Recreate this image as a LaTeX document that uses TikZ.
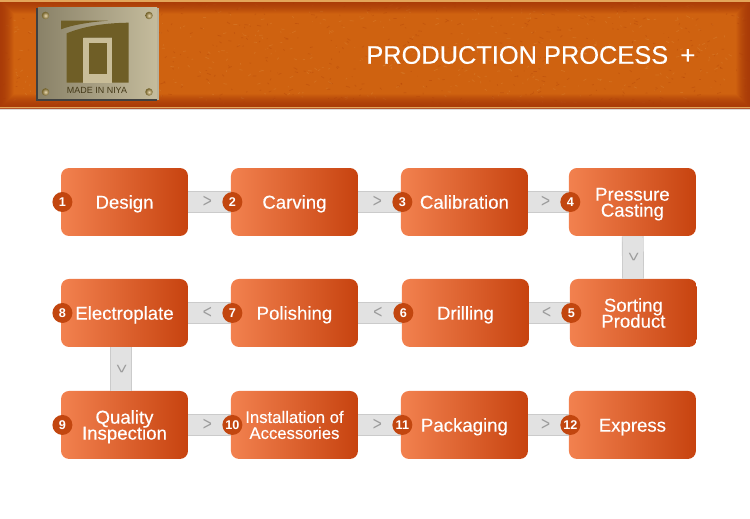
\documentclass[tikz,border=0pt]{standalone}
\usepackage{fontspec}
\setmainfont{Liberation Sans}
\newfontfamily\boxfont[FakeBold=0.25]{Liberation Sans}
\definecolor{boxleft}{HTML}{F2814F}
\definecolor{boxmid}{HTML}{E2693A}
\definecolor{boxright}{HTML}{C7430F}
\definecolor{badgefill}{HTML}{C2460F}
\definecolor{bandfill}{HTML}{E2E2E2}
\definecolor{bandedge}{HTML}{CBCBCB}
\definecolor{chevron}{HTML}{9C9C9C}
\definecolor{leather}{HTML}{CF6210}
\definecolor{leatheredge}{HTML}{A83A08}
\definecolor{leatherline}{HTML}{E3A55A}
\definecolor{plateedge}{HTML}{8A8268}
\definecolor{platemid}{HTML}{CFC6A6}
\definecolor{logodark}{HTML}{6F5E26}
\definecolor{logoframe}{HTML}{C9BD98}
\definecolor{screwgold}{HTML}{E9D7AE}
\newcommand{\chev}[1]{\scalebox{0.8}[1]{#1}}
\newcommand{\boxsize}[1]{\fontsize{#1}{9.07}\boxfont\lineskiplimit=-20pt\relax}
\begin{document}
\begin{tikzpicture}
 [x=0.02cm, y=-0.02cm,
  step node/.style={node distance=3.4cm, rectangle, rounded corners=1.6mm, minimum width=2.54cm, minimum height=1.36cm, inner sep=0pt, left color=boxleft, middle color=boxmid, right color=boxright, text=white, align=center, font=\boxsize{10.6}, execute at begin node={\rule{0pt}{1em}}, execute at end node={\rule[-0.284em]{0pt}{0.284em}}},
  two line/.style={execute at begin node={\rule{0pt}{\dimexpr 9.07pt+1em\relax}}},
  badge node/.style={circle, fill=badgefill, minimum size=4mm, inner sep=0pt, text=white, font=\fontsize{7.2}{8}\selectfont\bfseries},
  band/.style={draw=bandedge, line width=0.5pt, double=bandfill, double distance=11.4pt},
  arrow node/.style={text=chevron, inner sep=0pt, font=\fontsize{11}{11}\selectfont},
  screw/.style={circle, minimum size=1.5mm, inner sep=0pt, inner color=screwgold, outer color=logodark}]

\useasboundingbox (0,0) rectangle (750,519);

% header
\fill[leather] (0,0) rectangle (750,108);
\pgfmathsetseed{7}
\foreach \i in {1,...,500}
  \draw[leatheredge, opacity=0.3, line width=0.4pt] ({rnd*750},{rnd*106}) -- ++({rnd*8-4},{rnd*4-2});
\foreach \i in {1,...,500}
  \draw[leatherline, opacity=0.22, line width=0.4pt] ({rnd*750},{rnd*106}) -- ++({rnd*8-4},{rnd*4-2});
\foreach \k in {0,...,13}
  \draw[leatheredge, line width=0.65pt, opacity={0.85*(14-\k)/14}] (\k,\k) rectangle (750-\k,108-\k);
\draw[leatherline, line width=1.1pt] (0,0.8) -- (750,0.8);
\draw[leatherline, line width=1.1pt] (0,107.5) -- (750,107.5);
\draw[black!15, line width=0.5pt] (0,109) -- (750,109);

% plate
\fill[black!75] (36,8) rectangle (157,101);
\shade[left color=plateedge, middle color=platemid, right color=platemid!85!plateedge] (38,8) rectangle (157,99);
\fill[platemid!70!gray] (157,8) rectangle (159,100);
\fill[logodark] (66.7,33.3) .. controls (85,26) and (105,23) .. (128.7,22.7) -- (128.7,82.7) -- (112,82.7) -- (112,37.7) -- (83.3,37.7) -- (83.3,82.7) -- (66.7,82.7) -- cycle;
\fill[logodark] (61,20.7) -- (108,20.7) .. controls (90,22) and (72,25) .. (61,29.3) -- cycle;
\fill[logoframe] (83.3,37.7) rectangle (112,82.7);
\fill[logodark] (89,42.7) rectangle (107.3,74);
\node[text=logodark!60!black, inner sep=0pt, font=\fontsize{5.1}{5}\selectfont] (maker) at (97,90.5) {MADE IN NIYA};
\node[screw] (s1) at (45.5,15.5) {};
\node[screw] (s2) at (149,15.5) {};
\node[screw] (s3) at (45.5,92) {};
\node[screw] (s4) at (149,92) {};

\node[anchor=west, inner sep=0pt, text=white, font=\fontsize{14.45}{16}\boxfont] (title) at (366,55) {PRODUCTION PROCESS\hspace{7pt}+};

% boxes
\node[step node] (1) at (124.5,202) {Design};
\node[step node] (2) [right of=1] {Carving};
\node[step node] (3) [right of=2] {Calibration};
\node[step node, two line, node distance=3.36cm] (4) [right of=3] {Pressure\\Casting};

\node[step node, node distance=2.22cm] (8) [below of=1] {Electroplate};
\node[step node] (7) [right of=8] {Polishing};
\node[step node, node distance=3.42cm] (6) [right of=7] {Drilling};
\node[step node, two line, node distance=3.36cm] (5) [right of=6] {Sorting\\Product};

\node[step node, two line, node distance=2.24cm] (9) [below of=8] {Quality\\Inspection};
\node[step node, two line, font=\boxsize{9.5}] (10) [right of=9] {Installation of\\Accessories};
\node[step node] (11) [right of=10] {Packaging};
\node[step node, node distance=3.36cm] (12) [right of=11] {Express};

\path
  (1) edge [band] node [arrow node, pos=0.45] {\chev{>}} (2)
  (2) edge [band] node [arrow node, pos=0.45] {\chev{>}} (3)
  (3) edge [band] node [arrow node, pos=0.43] {\chev{>}} (4)
  (4) edge [band] node [arrow node, rotate=-90] {\chev{>}} (5)
  (5) edge [band] node [arrow node, pos=0.57] {\chev{<}} (6)
  (6) edge [band] node [arrow node, pos=0.55] {\chev{<}} (7)
  (7) edge [band] node [arrow node, pos=0.55] {\chev{<}} (8)
  ([xshift=-2pt]8.south) edge [band] node [arrow node, rotate=-90] {\chev{>}} ([xshift=-2pt]9.north)
  (9) edge [band] node [arrow node, pos=0.45] {\chev{>}} (10)
  (10) edge [band] node [arrow node, pos=0.45] {\chev{>}} (11)
  (11) edge [band] node [arrow node, pos=0.43] {\chev{>}} (12);

% number badges
\foreach \n in {1,...,12}
  \node[badge node] (b\n) at ([xshift=1pt]\n.west) {\n};

\end{tikzpicture}
\end{document}
